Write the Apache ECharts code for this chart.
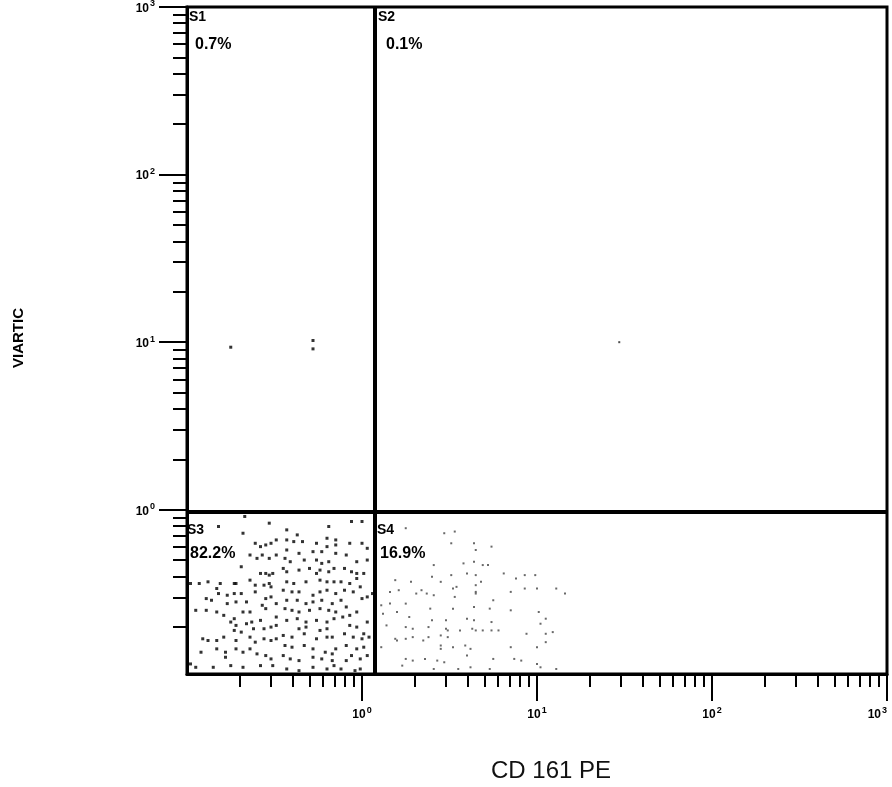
<!DOCTYPE html>
<html>
<head>
<meta charset="utf-8">
<title>CD 161 PE</title>
<script src="https://cdn.jsdelivr.net/npm/echarts@6/dist/echarts.min.js"></script>
<style>
html, body { margin: 0; padding: 0; background: #fff; overflow: hidden; }
#main { width: 892px; height: 787px; }
</style>
</head>
<body>
<div id="main"></div>
<script>
'use strict';
// all events are in log10 decades (x: CD 161 PE, y: VIARTIC)
var decades = [0, 1, 2, 3];
var quadNames = ['S1', 'S2', 'S3', 'S4'];
var quadPct = ['0.7%', '0.1%', '82.2%', '16.9%'];
var gateX = 0.074;   // ~1.19
var gateY = -0.015;  // ~0.97

var s1Pts = [[-0.75, 0.97], [-0.28, 1.01], [-0.28, 0.96]];
var s2Pts = [[1.47, 1.00]];
var s3Pts = [
  [-0.82,-0.10],[-0.67,-0.04],[-0.68,-0.14],[-0.53,-0.08],[-0.61,-0.20],[-0.58,-0.22],[-0.55,-0.21],[-0.52,-0.20],
  [-0.49,-0.18],[-0.64,-0.27],[-0.60,-0.29],[-0.57,-0.27],[-0.53,-0.29],[-0.49,-0.27],[-0.69,-0.34],[-0.58,-0.38],
  [-0.55,-0.38],[-0.53,-0.39],[-0.51,-0.38],[-0.98,-0.44],[-0.93,-0.44],[-0.88,-0.43],[-0.81,-0.44],[-0.73,-0.44],
  [-0.72,-0.44],[-0.64,-0.42],[-0.61,-0.45],[-0.61,-0.49],[-0.56,-0.45],[-0.53,-0.44],[-0.52,-0.46],[-0.83,-0.47],
  [-0.82,-0.50],[-0.77,-0.51],[-0.73,-0.50],[-0.69,-0.50],[-0.89,-0.53],[-0.86,-0.54],[-0.95,-0.60],[-0.89,-0.60],
  [-0.83,-0.61],[-0.77,-0.56],[-0.72,-0.55],[-0.66,-0.55],[-0.55,-0.53],[-0.52,-0.52],[-0.49,-0.56],[-0.57,-0.57],
  [-0.55,-0.59],[-0.79,-0.63],[-0.73,-0.65],[-0.68,-0.61],[-0.64,-0.61],[-0.75,-0.67],[-0.72,-0.69],[-0.66,-0.68],
  [-0.63,-0.67],[-0.58,-0.66],[-0.49,-0.64],[-0.49,-0.69],[-0.73,-0.72],[-0.69,-0.73],[-0.62,-0.71],[-0.56,-0.71],
  [-0.52,-0.70],[-0.91,-0.77],[-0.88,-0.78],[-0.83,-0.78],[-0.79,-0.76],[-0.72,-0.78],[-0.64,-0.76],[-0.61,-0.79],
  [-0.56,-0.77],[-0.52,-0.78],[-0.49,-0.77],[-0.92,-0.85],[-0.83,-0.83],[-0.78,-0.85],[-0.72,-0.83],[-0.68,-0.85],
  [-0.64,-0.83],[-0.78,-0.88],[-0.60,-0.86],[-0.55,-0.87],[-0.52,-0.89],[-0.98,-0.92],[-0.95,-0.94],[-0.85,-0.94],
  [-0.75,-0.93],[-0.68,-0.94],[-0.58,-0.93],[-0.51,-0.93],
  [-0.19,-0.10],[-0.06,-0.07],[0.00,-0.07],[-0.43,-0.12],[-0.37,-0.15],[-0.43,-0.18],[-0.39,-0.19],[-0.34,-0.19],
  [-0.26,-0.20],[-0.20,-0.17],[-0.15,-0.18],[-0.15,-0.21],[-0.07,-0.20],[0.00,-0.20],[0.03,-0.23],[-0.43,-0.24],
  [-0.36,-0.26],[-0.28,-0.25],[-0.23,-0.25],[-0.20,-0.22],[-0.15,-0.26],[-0.09,-0.27],[-0.44,-0.29],[-0.41,-0.31],
  [-0.33,-0.30],[-0.26,-0.30],[-0.23,-0.32],[-0.19,-0.31],[-0.03,-0.31],[0.03,-0.30],[-0.45,-0.35],[-0.43,-0.37],
  [-0.36,-0.36],[-0.30,-0.35],[-0.26,-0.38],[-0.24,-0.36],[-0.19,-0.37],[-0.16,-0.35],[-0.10,-0.35],[-0.06,-0.37],
  [-0.03,-0.38],[0.01,-0.38],[-0.43,-0.43],[-0.39,-0.44],[-0.32,-0.43],[-0.24,-0.42],[-0.20,-0.43],[-0.16,-0.43],
  [-0.12,-0.43],[-0.07,-0.44],[-0.03,-0.41],[-0.01,-0.46],[-0.45,-0.48],[-0.40,-0.49],[-0.36,-0.49],[-0.28,-0.51],
  [-0.24,-0.49],[-0.20,-0.48],[-0.15,-0.50],[-0.10,-0.48],[-0.05,-0.49],[0.00,-0.53],[0.03,-0.52],[0.06,-0.50],
  [-0.43,-0.54],[-0.37,-0.54],[-0.32,-0.56],[-0.28,-0.55],[-0.23,-0.54],[-0.17,-0.56],[-0.12,-0.54],[-0.44,-0.59],
  [-0.40,-0.60],[-0.36,-0.61],[-0.30,-0.60],[-0.24,-0.59],[-0.19,-0.60],[-0.15,-0.61],[-0.09,-0.58],[-0.07,-0.63],
  [-0.03,-0.61],[-0.43,-0.66],[-0.37,-0.65],[-0.32,-0.67],[-0.26,-0.66],[-0.20,-0.67],[-0.16,-0.65],[-0.11,-0.64],
  [-0.36,-0.71],[-0.32,-0.70],[-0.24,-0.72],[-0.20,-0.71],[-0.07,-0.69],[-0.03,-0.70],[0.03,-0.67],[0.01,-0.74],
  [-0.45,-0.75],[-0.40,-0.76],[-0.33,-0.74],[-0.26,-0.77],[-0.20,-0.76],[-0.17,-0.76],[-0.10,-0.74],[-0.05,-0.76],
  [0.00,-0.77],[0.04,-0.76],[-0.44,-0.81],[-0.40,-0.82],[-0.33,-0.81],[-0.28,-0.83],[-0.21,-0.85],[-0.17,-0.86],
  [-0.15,-0.83],[-0.09,-0.81],[-0.03,-0.83],[0.01,-0.82],[-0.45,-0.87],[-0.41,-0.89],[-0.36,-0.90],[-0.28,-0.88],
  [-0.23,-0.89],[-0.17,-0.90],[-0.16,-0.93],[-0.09,-0.90],[-0.06,-0.87],[-0.01,-0.89],[0.03,-0.87],[-0.43,-0.95],
  [-0.36,-0.96],[-0.28,-0.94],[-0.20,-0.95],[-0.12,-0.95],[-0.04,-0.96],[-0.01,-0.95]
];
var s4Pts = [
  [0.25,-0.11],[0.47,-0.14],[0.53,-0.13],[0.51,-0.20],[0.64,-0.20],[0.65,-0.24],[0.74,-0.22],[0.41,-0.33],
  [0.58,-0.32],[0.64,-0.31],[0.69,-0.33],[0.72,-0.33],[0.19,-0.42],[0.28,-0.43],[0.40,-0.40],[0.45,-0.43],
  [0.51,-0.39],[0.60,-0.38],[0.65,-0.39],[0.68,-0.43],[0.81,-0.38],[0.88,-0.41],[0.93,-0.39],[0.99,-0.39],
  [0.65,-0.45],[0.65,-0.49],[0.54,-0.46],[0.52,-0.47],[0.16,-0.49],[0.21,-0.48],[0.31,-0.50],[0.34,-0.48],
  [0.37,-0.50],[0.41,-0.51],[0.53,-0.52],[0.65,-0.50],[0.75,-0.54],[0.85,-0.49],[0.93,-0.47],[1.00,-0.47],
  [1.11,-0.47],[1.16,-0.50],[0.11,-0.57],[0.16,-0.56],[0.25,-0.56],[0.39,-0.59],[0.52,-0.59],[0.64,-0.58],
  [0.73,-0.59],[0.85,-0.60],[1.01,-0.61],[0.12,-0.62],[0.20,-0.61],[0.27,-0.64],[0.40,-0.66],[0.48,-0.66],
  [0.60,-0.65],[0.64,-0.66],[0.74,-0.67],[1.02,-0.68],[1.05,-0.65],[0.14,-0.69],[0.25,-0.70],[0.29,-0.71],
  [0.49,-0.72],[0.56,-0.72],[0.63,-0.71],[0.74,-0.72],[0.38,-0.70],[0.48,-0.71],[0.19,-0.77],[0.29,-0.76],
  [0.38,-0.76],[0.45,-0.75],[0.49,-0.76],[0.65,-0.72],[0.69,-0.72],[0.78,-0.72],[0.94,-0.74],[1.05,-0.74],
  [1.09,-0.73],[0.11,-0.82],[0.20,-0.78],[0.25,-0.77],[0.35,-0.78],[0.45,-0.81],[0.45,-0.83],[0.52,-0.82],
  [0.59,-0.81],[0.62,-0.83],[0.85,-0.82],[1.00,-0.82],[1.05,-0.79],[0.25,-0.89],[0.29,-0.90],[0.36,-0.89],
  [0.43,-0.90],[0.47,-0.91],[0.60,-0.87],[0.75,-0.89],[0.87,-0.89],[0.91,-0.90],[1.00,-0.92],[0.23,-0.93],
  [0.41,-0.95],[0.55,-0.95],[0.62,-0.94],[0.73,-0.95],[1.02,-0.94],[1.11,-0.95]
];

var FONT = '"Liberation Sans", Arial, sans-serif';
var yMin = -0.98;

// minor ticks at 2..9 of every decade
function minorTicks (lo) {
  var out = [];
  for (var n = -1; n < 3; n++) {
    for (var k = 2; k < 10; k++) {
      var v = n + Math.log10(k);
      if (v > lo) out.push(v);
    }
  }
  return out;
}

function powLabel (v) {
  return '{b|10}{s|' + Math.round(v) + '}';
}

var labelRich = {
  b: {fontFamily: FONT, fontWeight: 'bold', fontSize: 12, color: '#000', verticalAlign: 'bottom'},
  s: {fontFamily: FONT, fontWeight: 'bold', fontSize: 9, color: '#000', verticalAlign: 'bottom', padding: [0, 0, 6, 1]}
};

function scatter (name, pts, size, color) {
  return {
    type: 'scatter', name: name, data: pts,
    symbol: 'rect', symbolSize: size,
    itemStyle: {color: color},
    silent: true
  };
}

var series = [
  scatter('S1', s1Pts, [3, 3], '#000'),
  scatter('S2', s2Pts, [2, 2], '#222'),
  scatter('S3', s3Pts, [3, 3], '#000'),
  scatter('S4', s4Pts, [2, 2], '#444')
];
series[0].markLine = {
  silent: true, symbol: ['none', 'none'], animation: false,
  label: {show: false},
  lineStyle: {color: '#000', width: 4, type: 'solid'},
  data: [{xAxis: gateX}, {yAxis: gateY}]
};

var quadPos = [[189, 10, 195, 37], [378, 10, 386, 37], [187, 523, 190, 546], [377, 523, 380, 546]];
var graphic = [];
quadNames.forEach(function (nm, i) {
  var p = quadPos[i];
  graphic.push({type: 'text', left: p[0], top: p[1], silent: true,
    style: {text: nm, font: 'bold 14px ' + FONT, fill: '#000'}});
  graphic.push({type: 'text', left: p[2], top: p[3], silent: true,
    style: {text: quadPct[i], font: 'bold 16px ' + FONT, fill: '#000'}});
});
graphic.push({type: 'text', x: 551, y: 771, silent: true,
  style: {text: 'CD 161 PE', font: '24px ' + FONT, fill: '#111', align: 'center', verticalAlign: 'middle'}});
graphic.push({type: 'text', x: 19, y: 338, rotation: Math.PI / 2, silent: true,
  style: {text: 'VIARTIC', font: 'bold 15px ' + FONT, fill: '#000', align: 'center', verticalAlign: 'middle'}});

var myChart = echarts.init(document.getElementById('main'));
myChart.setOption({
  animation: false,
  backgroundColor: '#fff',
  grid: {
    left: 187, top: 7, width: 700, height: 667,
    outerBoundsMode: 'none', containLabel: false,
    show: true, borderColor: '#000', borderWidth: 3
  },
  xAxis: [
    {
      type: 'value', min: -1, max: 3, position: 'bottom',
      axisLine: {show: true, onZero: false, lineStyle: {color: '#000', width: 3}},
      axisTick: {show: true, customValues: decades, length: 27, lineStyle: {color: '#000', width: 2}},
      axisLabel: {customValues: decades, margin: 32, alignMaxLabel: 'right', formatter: powLabel, rich: labelRich},
      splitLine: {show: false}
    },
    {
      type: 'value', min: -1, max: 3, position: 'bottom',
      axisLine: {show: false, onZero: false},
      axisTick: {show: true, customValues: minorTicks(-1), length: 13, lineStyle: {color: '#000', width: 2}},
      axisLabel: {show: false},
      splitLine: {show: false}
    }
  ],
  yAxis: [
    {
      type: 'value', min: yMin, max: 3, position: 'left',
      axisLine: {show: true, onZero: false, lineStyle: {color: '#000', width: 3}},
      axisTick: {show: true, customValues: decades, length: 28, lineStyle: {color: '#000', width: 2}},
      axisLabel: {customValues: decades, margin: 32, formatter: powLabel, rich: labelRich},
      splitLine: {show: false}
    },
    {
      type: 'value', min: yMin, max: 3, position: 'left',
      axisLine: {show: false, onZero: false},
      axisTick: {show: true, customValues: minorTicks(yMin), length: 14, lineStyle: {color: '#000', width: 2}},
      axisLabel: {show: false},
      splitLine: {show: false}
    }
  ],
  graphic: graphic,
  series: series
});
</script>
</body>
</html>
